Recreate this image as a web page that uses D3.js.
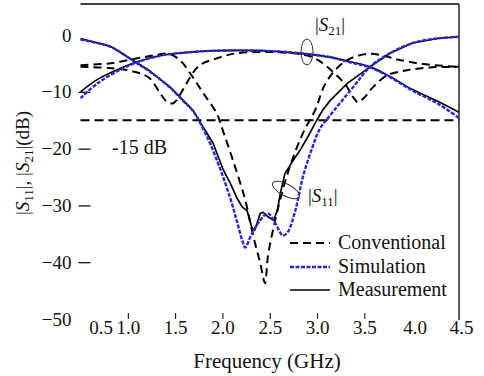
<!DOCTYPE html>
<html>
<head>
<meta charset="utf-8">
<script src="https://cdn.jsdelivr.net/npm/d3@7/dist/d3.min.js"></script>
<style>
  html, body { margin: 0; padding: 0; background: #fff; }
</style>
</head>
<body>
<svg id="chart" width="484" height="376"></svg>
<script>
// ---------- data (frequency GHz, magnitude dB) ----------
const xTicks = [0.5, 1.0, 1.5, 2.0, 2.5, 3.0, 3.5, 4.0, 4.5];
const yTicks = [0, -10, -20, -30, -40, -50];
const legendLabels = ["Conventional", "Simulation", "Measurement"];

const convS11 = [[0.5,-5.3],[0.8,-5.0],[1.1,-4.1],[1.3,-3.5],[1.43,-3.3],[1.55,-4.4],[1.69,-7.5],[1.8,-10.3],[1.94,-13.8],[2.0,-16.6],[2.11,-22],[2.24,-29],[2.32,-35],[2.4,-40.2],[2.45,-43.7],[2.48,-39],[2.54,-33.9],[2.61,-29],[2.71,-23.3],[2.85,-17.3],[2.98,-13.2],[3.08,-8.8],[3.19,-6.2],[3.3,-4.6],[3.42,-3.7],[3.56,-3.3],[3.7,-3.6],[3.85,-4.3],[4.12,-5.1],[4.5,-5.6]];
const convS21 = [[0.5,-5.6],[0.8,-5.8],[1.08,-6.5],[1.23,-7.6],[1.34,-10.2],[1.41,-11.7],[1.48,-12],[1.58,-9.7],[1.66,-7.4],[1.76,-5.3],[1.94,-4.1],[2.15,-3.2],[2.5,-3.0],[2.75,-3.2],[2.9,-3.6],[3.0,-4.3],[3.1,-5.5],[3.2,-7.0],[3.3,-8.7],[3.38,-10.9],[3.43,-11.8],[3.5,-11],[3.59,-9.2],[3.74,-7.1],[3.95,-6.2],[4.19,-5.7],[4.5,-5.6]];
const simS11 = [[0.5,-0.8],[0.82,-2.1],[1.08,-4.8],[1.23,-6.4],[1.45,-9.3],[1.58,-11.5],[1.69,-13.4],[1.84,-18],[1.97,-23.3],[2.08,-28.6],[2.15,-32.6],[2.21,-36.2],[2.24,-37.4],[2.31,-35],[2.4,-32.6],[2.48,-31.4],[2.56,-33.2],[2.64,-35.3],[2.69,-34.7],[2.77,-30.9],[2.85,-25],[2.95,-19.8],[3.03,-16.5],[3.12,-14.5],[3.38,-9.2],[3.56,-5.6],[3.77,-3.2],[4.01,-1.4],[4.27,-0.6],[4.5,-0.3]];
const measS11 = [[0.5,-0.6],[0.82,-2.0],[1.08,-4.7],[1.23,-6.3],[1.45,-9.2],[1.58,-11.4],[1.69,-13.3],[1.9,-19],[2.01,-23.8],[2.08,-26],[2.15,-28.6],[2.21,-30.3],[2.26,-30.9],[2.31,-33.9],[2.34,-34.4],[2.4,-31.4],[2.43,-31.2],[2.48,-32],[2.54,-32.6],[2.58,-30.9],[2.61,-28],[2.66,-24.4],[2.75,-22],[2.82,-20.3],[2.9,-18],[2.98,-15.5],[3.06,-13.2],[3.14,-11.5],[3.32,-8.5],[3.56,-5.6],[3.77,-3.2],[4.01,-1.4],[4.27,-0.6],[4.5,-0.3]];
const simS21 = [[0.5,-11.1],[0.68,-8.5],[0.93,-6.0],[1.1,-4.8],[1.35,-3.6],[1.6,-3.1],[1.85,-2.8],[2.2,-2.7],[2.6,-2.9],[2.93,-3.4],[3.14,-3.9],[3.35,-4.8],[3.56,-5.7],[3.77,-7.4],[4.01,-9.8],[4.27,-12.0],[4.5,-14.6]];
const measS21 = [[0.5,-10.0],[0.68,-7.8],[0.93,-5.8],[1.1,-4.7],[1.35,-3.6],[1.6,-3.1],[1.85,-2.8],[2.2,-2.7],[2.6,-2.9],[2.93,-3.4],[3.14,-3.9],[3.35,-4.7],[3.56,-5.6],[3.77,-7.3],[4.01,-9.6],[4.27,-11.6],[4.5,-13.6]];
const refLevel = -15;

// ---------- layout ----------
const FONT = "'Liberation Serif', 'Times New Roman', serif";
const svg = d3.select("#chart");
const x = d3.scaleLinear().domain([0.5, 4.5]).range([80.5, 459]);
const y = d3.scaleLinear().domain([5.47, -50]).range([4, 319]);
const BLUE = "#2727d4";

// frame (top + right)
svg.append("line").attr("x1", x(0.5)).attr("x2", x(4.5)).attr("y1", y(5.47)).attr("y2", y(5.47))
  .attr("stroke", "#000").attr("stroke-width", 1.3);
svg.append("line").attr("x1", x(4.5)).attr("x2", x(4.5)).attr("y1", y(5.47)).attr("y2", y(-50) + 1)
  .attr("stroke", "#000").attr("stroke-width", 1.3);

// bottom axis
const gx = svg.append("g").attr("transform", `translate(0,${y(-50)})`)
  .call(d3.axisBottom(x).tickValues(xTicks).tickFormat(d3.format(".1f")).tickSizeInner(-6).tickSizeOuter(0).tickPadding(1));
gx.select(".domain").remove();
gx.selectAll(".tick line").attr("stroke", "#000").attr("stroke-width", 1)
  .attr("display", d => (d > 0.5 && d < 3.9) ? null : "none");
gx.selectAll(".tick text").attr("font-size", 19).attr("fill", "#111")
  .attr("dx", d => d === 0.5 ? 20 : (d === 4.0 ? 3 : (d === 4.5 ? 2 : 0)));

// left axis
const gy = svg.append("g").attr("transform", `translate(${x(0.5) - 2},0)`)
  .call(d3.axisLeft(y).tickValues(yTicks).tickFormat(d3.format("d")).tickSizeInner(-12).tickSizeOuter(0).tickPadding(7));
gy.select(".domain").remove();
gy.selectAll(".tick line").attr("stroke", "#000").attr("stroke-width", 1.2)
  .attr("display", d => (d < 0 && d > -45) ? null : "none");
gy.selectAll(".tick text").attr("font-size", 19).attr("fill", "#111");

// axis titles
svg.append("text").attr("x", 267).attr("y", 368).attr("text-anchor", "middle")
  .attr("font-size", 21).attr("fill", "#111").text("Frequency (GHz)");

const yt = svg.append("text").attr("transform", "translate(29,163) rotate(-90)")
  .attr("text-anchor", "middle").attr("font-size", 19).attr("fill", "#111");
yt.append("tspan").text("|");
yt.append("tspan").attr("font-style", "italic").text("S");
yt.append("tspan").attr("font-size", 13).attr("dy", 4).text("11");
yt.append("tspan").attr("dy", -4).text("|,  |");
yt.append("tspan").attr("font-style", "italic").text("S");
yt.append("tspan").attr("font-size", 13).attr("dy", 4).text("21");
yt.append("tspan").attr("dy", -4).text("|(dB)");

// -15 dB reference line
svg.append("line").attr("x1", x(0.5)).attr("x2", x(4.5)).attr("y1", y(refLevel)).attr("y2", y(refLevel))
  .attr("stroke", "#000").attr("stroke-width", 1.8).attr("stroke-dasharray", "9,5");
svg.append("text").attr("x", 112).attr("y", 154).attr("font-size", 20).attr("fill", "#111").text("-15 dB");

// curves
const line = d3.line().x(d => x(d[0])).y(d => y(d[1])).curve(d3.curveCatmullRom.alpha(0.5));
const lineLin = d3.line().x(d => x(d[0])).y(d => y(d[1])).curve(d3.curveLinear);

const conv = {stroke: "#000", w: 2, dash: "8,5"};
const sim = {stroke: BLUE, w: 2.4, dash: "4,1.5"};
const meas = {stroke: "#000", w: 1.7, dash: null};

function draw(data, st, gen) {
  svg.append("path").attr("d", (gen || line)(data)).attr("fill", "none")
    .attr("stroke", st.stroke).attr("stroke-width", st.w)
    .attr("stroke-dasharray", st.dash).attr("stroke-linejoin", "round");
}
draw(convS21, conv);
draw(convS11, conv);
draw(measS21, meas);
draw(measS11, meas, lineLin);
draw(simS21, sim);
draw(simS11, sim);

// annotations
svg.append("ellipse").attr("cx", 307).attr("cy", 52).attr("rx", 6).attr("ry", 13)
  .attr("fill", "none").attr("stroke", "#333").attr("stroke-width", 1);
const s21 = svg.append("text").attr("x", 315).attr("y", 31).attr("font-size", 19).attr("fill", "#111");
s21.append("tspan").text("|");
s21.append("tspan").attr("font-style", "italic").text("S");
s21.append("tspan").attr("font-size", 13).attr("dy", 4).text("21");
s21.append("tspan").attr("dy", -4).text("|");

svg.append("ellipse").attr("transform", "translate(286,190) rotate(28)").attr("rx", 15).attr("ry", 6)
  .attr("fill", "none").attr("stroke", "#333").attr("stroke-width", 1);
const s11 = svg.append("text").attr("x", 308).attr("y", 202).attr("font-size", 19).attr("fill", "#111");
s11.append("tspan").text("|");
s11.append("tspan").attr("font-style", "italic").text("S");
s11.append("tspan").attr("font-size", 13).attr("dy", 4).text("11");
s11.append("tspan").attr("dy", -4).text("|");

// legend
const legStyles = [conv, sim, meas];
const legY = [243, 267, 290];
legendLabels.forEach((lab, i) => {
  const st = legStyles[i];
  svg.append("line").attr("x1", 290).attr("x2", 330).attr("y1", legY[i]).attr("y2", legY[i])
    .attr("stroke", st.stroke).attr("stroke-width", st.w).attr("stroke-dasharray", st.dash);
  svg.append("text").attr("x", 338).attr("y", legY[i] + 6).attr("font-size", 20).attr("fill", "#111").text(lab);
});

// force the serif face on every text node (inline CSS wins over axis attributes)
svg.selectAll("text").style("font-family", FONT);
</script>
</body>
</html>
